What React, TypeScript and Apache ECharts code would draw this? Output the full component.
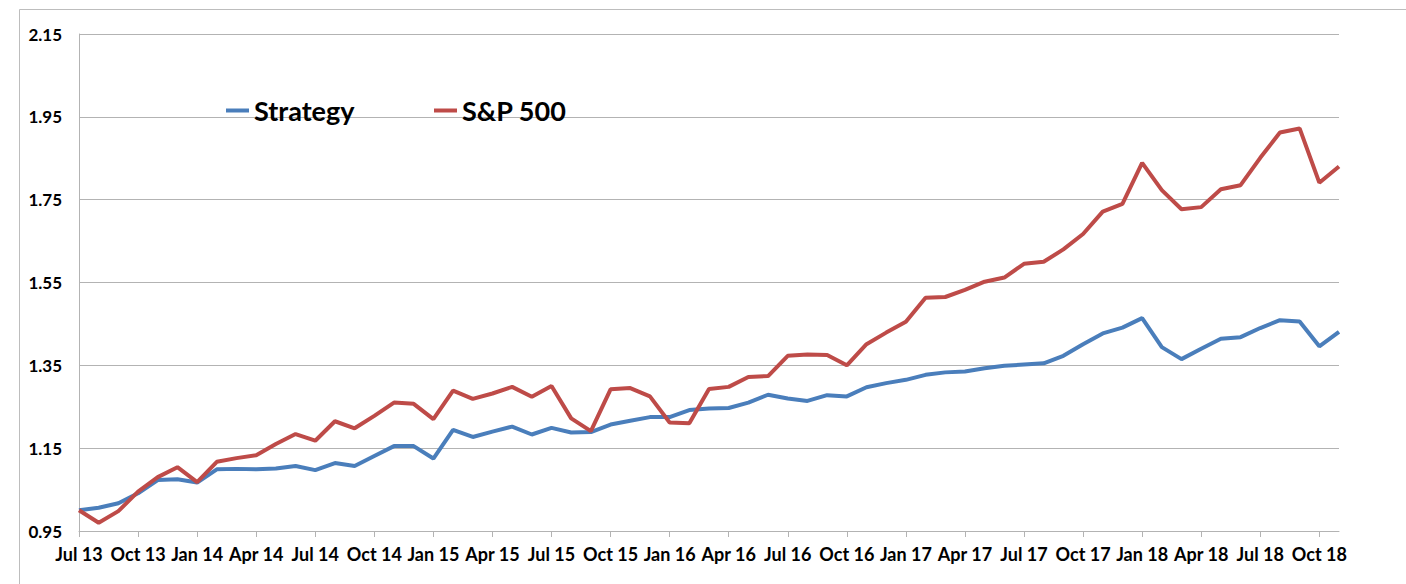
import React, { useEffect, useRef } from "react";
import * as echarts from "echarts";

const months: string[] = [
  "Jul 13", "Aug 13", "Sep 13", "Oct 13", "Nov 13", "Dec 13",
  "Jan 14", "Feb 14", "Mar 14", "Apr 14", "May 14", "Jun 14",
  "Jul 14", "Aug 14", "Sep 14", "Oct 14", "Nov 14", "Dec 14",
  "Jan 15", "Feb 15", "Mar 15", "Apr 15", "May 15", "Jun 15",
  "Jul 15", "Aug 15", "Sep 15", "Oct 15", "Nov 15", "Dec 15",
  "Jan 16", "Feb 16", "Mar 16", "Apr 16", "May 16", "Jun 16",
  "Jul 16", "Aug 16", "Sep 16", "Oct 16", "Nov 16", "Dec 16",
  "Jan 17", "Feb 17", "Mar 17", "Apr 17", "May 17", "Jun 17",
  "Jul 17", "Aug 17", "Sep 17", "Oct 17", "Nov 17", "Dec 17",
  "Jan 18", "Feb 18", "Mar 18", "Apr 18", "May 18", "Jun 18",
  "Jul 18", "Aug 18", "Sep 18", "Oct 18", "Nov 18",
];

const strategy: number[] = [
  1.0, 1.006, 1.017, 1.041, 1.073, 1.075,
  1.067, 1.099, 1.1, 1.099, 1.101, 1.107,
  1.097, 1.114, 1.107, 1.131, 1.155, 1.155,
  1.125, 1.194, 1.177, 1.19, 1.202, 1.183,
  1.199, 1.188, 1.189, 1.207, 1.216, 1.225,
  1.225, 1.242, 1.246, 1.247, 1.26, 1.279,
  1.27, 1.264, 1.278, 1.275, 1.297, 1.307,
  1.315, 1.327, 1.333, 1.335, 1.343, 1.349,
  1.352, 1.355, 1.373, 1.401, 1.427, 1.441,
  1.464, 1.394, 1.365, 1.39, 1.414, 1.418,
  1.44, 1.459, 1.456, 1.396, 1.431,
];

const sp500: number[] = [
  1.0, 0.97, 0.998, 1.045, 1.08, 1.104,
  1.068, 1.117, 1.126, 1.133, 1.16, 1.184,
  1.168, 1.215, 1.198, 1.228, 1.26, 1.257,
  1.22, 1.289, 1.269, 1.282, 1.298, 1.274,
  1.3, 1.222, 1.191, 1.292, 1.295, 1.275,
  1.212, 1.21, 1.293, 1.298, 1.322, 1.324,
  1.373, 1.376, 1.375, 1.35, 1.401, 1.429,
  1.455, 1.513, 1.515, 1.532, 1.552, 1.562,
  1.595, 1.6, 1.63, 1.667, 1.721, 1.74,
  1.839, 1.773, 1.727, 1.732, 1.775, 1.785,
  1.851, 1.912, 1.922, 1.791, 1.83,
];

const yTicks: number[] = [0.95, 1.15, 1.35, 1.55, 1.75, 1.95, 2.15];

const FONT = "Lato";
const GRID_COLOR = "#b3b3b3";

export default function App() {
  const ref = useRef<HTMLDivElement>(null);

  useEffect(() => {
    if (!ref.current) return;
    const chart = echarts.init(ref.current, null, { renderer: "svg" });
    const legendText = { fontFamily: FONT, fontWeight: "bold", fontSize: 27, color: "#000" };
    chart.setOption({
      animation: false,
      backgroundColor: "#ffffff",
      grid: { left: 79, top: 34, right: 67, bottom: 53, containLabel: false },
      legend: [
        {
          data: ["Strategy"],
          left: 221,
          top: 92,
          icon: "rect",
          itemWidth: 23,
          itemHeight: 4,
          itemGap: 8,
          textStyle: legendText,
        },
        {
          data: ["S&P 500"],
          left: 429,
          top: 92,
          icon: "rect",
          itemWidth: 23,
          itemHeight: 4,
          itemGap: 8,
          textStyle: legendText,
        },
      ],
      xAxis: {
        type: "category",
        data: months,
        boundaryGap: false,
        axisLine: { show: true, lineStyle: { color: GRID_COLOR, width: 1 } },
        axisTick: { show: true, interval: 2, length: 6, lineStyle: { color: GRID_COLOR } },
        axisLabel: {
          interval: 2,
          margin: 14,
          fontFamily: FONT,
          fontWeight: "bold",
          fontSize: 18,
          color: "#000",
        },
        splitLine: { show: false },
      },
      yAxis: {
        type: "value",
        min: yTicks[0],
        max: yTicks[yTicks.length - 1],
        interval: 0.2,
        axisLine: { show: true, lineStyle: { color: GRID_COLOR, width: 1 } },
        axisTick: { show: false },
        axisLabel: {
          margin: 17,
          fontFamily: FONT,
          fontWeight: "bold",
          fontSize: 17,
          color: "#000",
          formatter: (v: number) => v.toFixed(2),
        },
        splitLine: { show: true, lineStyle: { color: GRID_COLOR, width: 1 } },
      },
      graphic: [
        {
          type: "polyline",
          shape: { points: [[19.5, 584], [19.5, 9.5], [1406, 9.5]] },
          style: { stroke: "#bdbdbd", lineWidth: 1, fill: "none" },
          silent: true,
        },
      ],
      series: [
        {
          name: "Strategy",
          type: "line",
          data: strategy,
          symbol: "none",
          lineStyle: { width: 4, color: "#4A7EBB" },
          itemStyle: { color: "#4A7EBB" },
        },
        {
          name: "S&P 500",
          type: "line",
          data: sp500,
          symbol: "none",
          lineStyle: { width: 4, color: "#BE4B48" },
          itemStyle: { color: "#BE4B48" },
        },
      ],
    });
    return () => chart.dispose();
  }, []);

  return (
    <div
      ref={ref}
      style={{ position: "fixed", left: 0, top: 0, width: 1406, height: 584, background: "#fff" }}
    />
  );
}
